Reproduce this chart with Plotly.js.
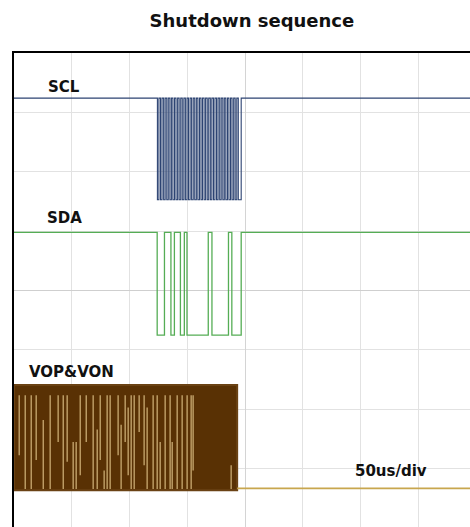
<!DOCTYPE html>
<html>
<head>
<meta charset="utf-8">
<script src="https://cdn.plot.ly/plotly-3.0.1.min.js"></script>
<style>
html,body{margin:0;padding:0;overflow:hidden;background:#fff;}
#chart{width:470px;height:527px;}
</style>
</head>
<body>
<div id="chart"></div>
<script>
// ---- data (time in microseconds, amplitude in screen divisions) ----
const timeStart = -200;
const timeEnd = 194.6;

const sclHigh = 3.24;
const sclLow = 1.53;
const sclEdges = [-75.9, -74.6, -73.2, -71.9, -70.5, -69.2, -67.8, -66.5, -65.1, -63.8,
  -62.5, -61.1, -59.8, -58.4, -57.1, -55.7, -54.4, -53.0, -51.7, -50.3,
  -49.0, -47.6, -46.3, -44.9, -43.6, -42.2, -40.9, -39.5, -38.2, -36.9,
  -35.5, -34.2, -32.8, -31.5, -30.1, -28.8, -27.4, -26.1, -24.7, -23.4,
  -22.0, -20.7, -19.3, -18.0, -16.7, -15.3, -14.0, -12.6, -11.3, -9.9,
  -8.6, -7.2, -5.9, -3.4];

const sdaHigh = 0.98;
const sdaLow = -0.75;
const sdaEdges = [-76.1, -69.8, -64.2, -61.2, -56.0, -52.6, -50.3, -31.9, -28.7, -14.4, -11.5, -3.4];

const voTop = -1.59;
const voBottom = -3.36;
const voStopTime = -6.9;
const voIdle = -3.33;
const streakX = [-195.5, -190.3, -185.1, -180.8, -174.7, -168.7, -161.8, -157.4, -154.0, -148.8,
  -146.2, -142.7, -137.5, -131.5, -128.0, -125.4, -122.0, -119.4, -116.8, -109.9,
  -107.3, -103.8, -101.2, -98.6, -96.0, -91.7, -87.4, -84.8, -79.6, -76.1,
  -73.5, -69.2, -64.9, -63.1, -58.8, -54.5, -50.2, -46.7, -45.0, -12.1];
const streakTop = [-1.76, -1.76, -1.76, -1.76, -2.18, -1.76, -1.76, -1.76, -1.76, -2.55,
  -2.55, -1.76, -1.76, -1.76, -2.34, -1.76, -3.03, -1.76, -1.76, -1.76,
  -2.26, -1.76, -1.97, -1.76, -1.76, -1.76, -1.76, -1.97, -1.76, -1.76,
  -2.55, -1.76, -1.76, -2.55, -1.76, -1.76, -1.76, -1.76, -1.76, -2.94];
const streakBottom = [-2.77, -3.34, -3.34, -2.85, -3.34, -3.34, -2.55, -3.34, -2.88, -3.34,
  -3.34, -3.11, -2.55, -3.34, -3.34, -2.85, -3.34, -3.34, -3.34, -2.77,
  -3.34, -2.55, -3.11, -3.34, -3.34, -2.38, -2.94, -3.34, -3.34, -3.34,
  -3.34, -3.34, -3.34, -3.34, -3.34, -3.34, -3.34, -3.34, -3.03, -3.34];

const labelText = ['SCL', 'SDA', 'VOP&VON', '50us/div'];
const labelX = [-172.1, -173.0, -188.8, 93.2];
const labelY = [3.43, 1.23, -1.377, -3.03];

// ---- build traces ----
function stepWave(edges, hi, lo) {
  const x = [timeStart], y = [hi];
  let level = hi;
  edges.forEach(e => {
    const next = level === hi ? lo : hi;
    x.push(e, e); y.push(level, next);
    level = next;
  });
  x.push(timeEnd); y.push(level);
  return {x, y};
}
const scl = stepWave(sclEdges, sclHigh, sclLow);
const sda = stepWave(sdaEdges, sdaHigh, sdaLow);

const sx = [], sy = [];
streakX.forEach((v, i) => { sx.push(v, v, null); sy.push(streakTop[i], streakBottom[i], null); });

const traces = [
  {x: scl.x, y: scl.y, mode: 'lines', line: {color: '#2c4372', width: 1.1}, hoverinfo: 'skip'},
  {x: sda.x, y: sda.y, mode: 'lines', line: {color: '#55ad55', width: 1.3}, hoverinfo: 'skip'},
  {x: [timeStart, timeStart, voStopTime, voStopTime, timeStart], y: [voBottom, voTop, voTop, voBottom, voBottom],
   mode: 'lines', fill: 'toself', fillcolor: '#593104', line: {color: '#6a4214', width: 2}, hoverinfo: 'skip'},
  {x: sx, y: sy, mode: 'lines', line: {color: '#c9aa72', width: 1.3}, connectgaps: false, hoverinfo: 'skip'},
  {x: [voStopTime, timeEnd], y: [voIdle, voIdle], mode: 'lines', line: {color: '#c8a64e', width: 1.6}, hoverinfo: 'skip'}
];

const labelFont = {family: 'DejaVu Sans', size: 15, color: '#111', weight: 'bold'};
const annotations = labelText.map((t, i) => ({
  x: labelX[i], y: labelY[i], xref: 'x', yref: 'y', text: t, showarrow: false,
  xanchor: 'left', yanchor: 'middle', font: labelFont
}));

const layout = {
  width: 470, height: 527,
  margin: {l: 14, r: 0, t: 53, b: 0, pad: 0},
  paper_bgcolor: '#fff', plot_bgcolor: '#fff',
  showlegend: false,
  title: {text: 'Shutdown sequence', x: 0.536, xref: 'container', y: 0.96, yref: 'container',
          xanchor: 'center', yanchor: 'middle',
          font: {family: 'DejaVu Sans', size: 18, color: '#111', weight: 'bold'}},
  xaxis: {range: [timeStart, timeEnd], dtick: 50, tick0: 0, showgrid: true, gridcolor: '#e2e2e2', gridwidth: 1,
          zeroline: true, zerolinecolor: '#d4d4d4', zerolinewidth: 1,
          showticklabels: false, ticks: '', side: 'top', showline: true, linecolor: '#000', linewidth: 2,
          fixedrange: true},
  yaxis: {range: [-3.98, 4], dtick: 1, tick0: 0, showgrid: true, gridcolor: '#e2e2e2', gridwidth: 1,
          zeroline: true, zerolinecolor: '#cfcfcf', zerolinewidth: 1,
          showticklabels: false, ticks: '', showline: true, linecolor: '#000', linewidth: 2.5,
          fixedrange: true},
  xaxis2: {overlaying: 'x', anchor: 'free', position: 0.4987, range: [timeStart, timeEnd], side: 'bottom',
           showgrid: false, zeroline: false, showline: false, showticklabels: false,
           ticks: 'outside', ticklen: 3, tickcolor: '#c4c4c4', dtick: 10, tick0: 0},
  yaxis2: {overlaying: 'y', anchor: 'free', position: 0.5068, range: [-3.98, 4], side: 'left',
           showgrid: false, zeroline: false, showline: false, showticklabels: false,
           ticks: 'outside', ticklen: 3, tickcolor: '#c4c4c4', dtick: 0.2, tick0: 0},
  annotations: annotations
};

Plotly.newPlot('chart', traces, layout, {staticPlot: true, displayModeBar: false});
</script>
</body>
</html>
